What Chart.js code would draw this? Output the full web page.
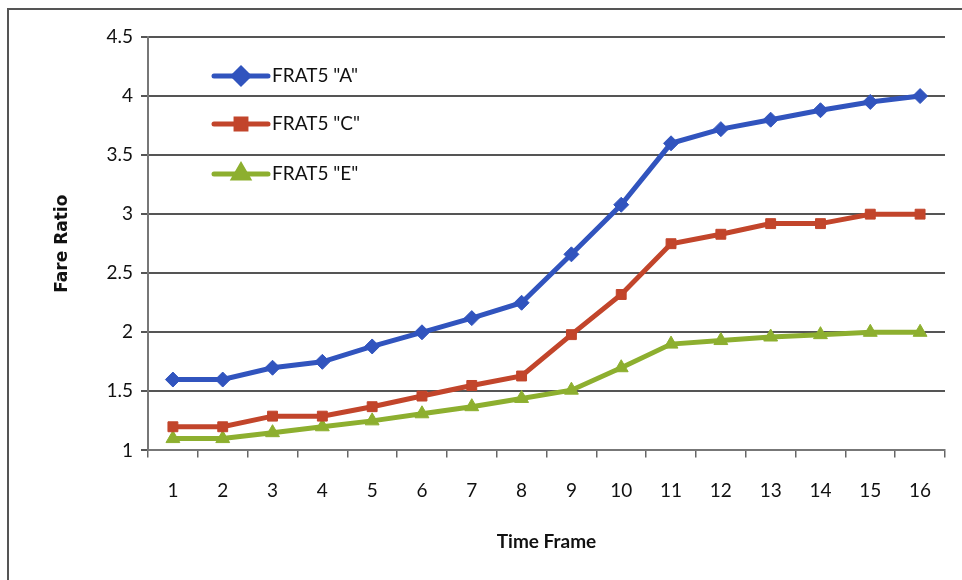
<!DOCTYPE html>
<html>
<head>
<meta charset="utf-8">
<script src="https://cdn.jsdelivr.net/npm/chart.js@4"></script>
<style>
  html, body { margin:0; padding:0; background:#fff; }
  #wrap { position:relative; width:962px; height:580px; }
  #frame { position:absolute; left:7px; top:8px; width:970px; height:590px; border-left:2px solid #555; border-top:2px solid #555; pointer-events:none; }
</style>
</head>
<body>
<div id="wrap">
  <canvas id="c" width="962" height="580"></canvas>
  <div id="frame"></div>
</div>
<script>
// Données
const timeFrames = ["1","2","3","4","5","6","7","8","9","10","11","12","13","14","15","16"];
const frat5A = [1.6,1.6,1.7,1.75,1.88,2.0,2.12,2.25,2.66,3.08,3.6,3.72,3.8,3.88,3.95,4.0];
const frat5C = [1.2,1.2,1.29,1.29,1.37,1.46,1.55,1.63,1.98,2.32,2.75,2.83,2.92,2.92,3.0,3.0];
const frat5E = [1.1,1.1,1.15,1.2,1.25,1.31,1.37,1.44,1.51,1.7,1.9,1.93,1.96,1.98,2.0,2.0];
const seriesNames = ['FRAT5 "A"','FRAT5 "C"','FRAT5 "E"'];

const BLUE = "#3154BE", RED = "#C2452B", GREEN = "#8DAF2F";
const FONT = "Lato, 'Open Sans', sans-serif";

function ds(label, data, color, style, r){
  return { label, data, borderColor:color, backgroundColor:color, borderWidth:5,
    pointStyle:style, pointRadius:r, pointHoverRadius:r, pointBorderWidth:1, tension:0 };
}

// Légende dessinée à l'intérieur du graphique
const insideLegend = {
  id:"insideLegend",
  afterDraw(chart){
    const ctx = chart.ctx;
    const rows = [76, 124, 174];
    chart.data.datasets.forEach((d, i)=>{
      const y = rows[i];
      ctx.save();
      ctx.strokeStyle = d.borderColor; ctx.lineWidth = 5; ctx.lineCap = "round";
      ctx.beginPath(); ctx.moveTo(214, y); ctx.lineTo(268, y); ctx.stroke();
      Chart.helpers.drawPoint(ctx, { pointStyle:d.pointStyle, radius:d.pointRadius, borderWidth:1 }, 241, y);
      ctx.fillStyle = d.borderColor; ctx.fill();
      ctx.fillStyle = "#111"; ctx.font = "19px " + FONT; ctx.textBaseline = "middle";
      ctx.fillText(d.label, 272, y);
      ctx.restore();
    });
  }
};

new Chart(document.getElementById("c"), {
  type:"line",
  data:{
    labels: timeFrames,
    datasets:[
      ds(seriesNames[0], frat5A, BLUE, "rectRot", 7.5),
      ds(seriesNames[1], frat5C, RED, "rect", 7),
      ds(seriesNames[2], frat5E, GREEN, "triangle", 8)
    ]
  },
  options:{
    responsive:false, animation:false,
    layout:{ padding:{ left:52, right:17, top:37, bottom:23 } },
    plugins:{ legend:{display:false}, tooltip:{enabled:false} },
    scales:{
      x:{
        offset:true,
        grid:{ offset:true, drawOnChartArea:false, color:"#666", lineWidth:1.5, tickLength:7 },
        border:{ color:"#777", width:2 },
        ticks:{ color:"#111", font:{ family:FONT, size:19 }, padding:22 },
        title:{ display:true, text:"Time Frame", color:"#111", font:{ family:FONT, size:19, weight:"bold" }, padding:{top:6} }
      },
      y:{
        min:1, max:4.5,
        afterFit(s){ s.width = 96; },
        ticks:{ stepSize:0.5, color:"#111", font:{ family:FONT, size:19 }, padding:8,
          callback:(v)=> String(Math.round(v*10)/10) },
        grid:{ color:"#555", lineWidth:2, tickLength:7 },
        border:{ color:"#777", width:2 },
        title:{ display:true, text:"Fare Ratio", color:"#111", font:{ family:"'DejaVu Sans', sans-serif", size:17, weight:"bold" }, padding:{bottom:0, top:0} }
      }
    }
  },
  plugins:[insideLegend]
});
</script>
</body>
</html>
